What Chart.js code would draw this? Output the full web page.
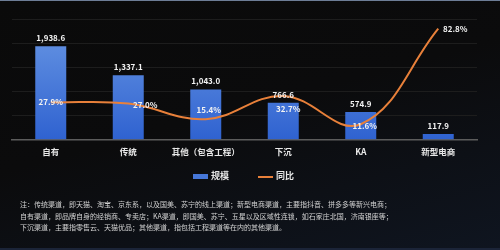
<!DOCTYPE html>
<html><head><meta charset="utf-8">
<script src="https://cdn.jsdelivr.net/npm/chart.js@4/dist/chart.umd.min.js"></script>
<style>
html,body{margin:0;padding:0;width:500px;height:250px;overflow:hidden;background:#0a0a0a;}
#wrap{position:relative;width:500px;height:250px;background:linear-gradient(165deg,#0a0a0a 0%,#0b0b0c 45%,#0f1520 100%);}
#topline{position:absolute;left:0;top:0;width:500px;height:1px;background:#6d7d96;}
#botline{position:absolute;left:0;bottom:0;width:500px;height:2px;background:#1b2438;}
#c{position:absolute;left:0;top:0;}
#legend{position:absolute;top:169px;left:0;width:500px;height:14px;font:bold 9px "Noto Sans CJK SC";color:#e6e6e6;}
.lg{position:absolute;top:0;line-height:14px;white-space:nowrap;}
.sw{display:inline-block;vertical-align:middle;margin-right:3px;}
#notes{position:absolute;left:20px;top:199px;font:7px "Noto Sans CJK SC";color:#d2d2d2;line-height:11.5px;white-space:nowrap;}
</style></head>
<body><div id="wrap">
<div id="topline"></div>
<canvas id="c" width="500" height="178"></canvas>
<div id="legend"></div>
<div id="notes"></div>
<div id="botline"></div>
</div>
<script>
const categories = ['自有','传统','其他（包含工程）','下沉','KA','新型电商'];
const scaleValues = [1938.6,1337.1,1043.0,766.6,574.9,117.9];
const yoyValues = [27.9,27.0,15.4,32.7,11.6,82.8];
const seriesNames = ['规模','同比'];
const noteLines = [
 '注：传统渠道，即天猫、淘宝、京东系，以及国美、苏宁的线上渠道；新型电商渠道，主要指抖音、拼多多等新兴电商；',
 '自有渠道，即品牌自身的经销商、专卖店；KA渠道，即国美、苏宁、五星以及区域性连锁，如石家庄北国，济南银座等；',
 '下沉渠道，主要指零售云、天猫优品；其他渠道，指包括工程渠道等在内的其他渠道。'
];

const BAR_COLOR = '#4677d8', LINE_COLOR = '#e8803a';
const FONT = '"Noto Sans CJK SC", "Noto Sans", sans-serif';
// label placement styles (pixel nudges relative to each line point)
const PCT_LABEL_NUDGE = [[0,0],[17,1],[3,-9],[5,13],[4,2],[17,0]];

document.getElementById('notes').innerHTML = noteLines.map(t=>'<div>'+t+'</div>').join('');
document.getElementById('legend').innerHTML =
 '<span class="lg" style="left:193px"><span class="sw" style="width:15px;height:5px;background:'+BAR_COLOR+'"></span>'+seriesNames[0]+'</span>'+
 '<span class="lg" style="left:258px"><span class="sw" style="width:15px;height:2px;background:'+LINE_COLOR+'"></span>'+seriesNames[1]+'</span>';

const fmt = v => v.toLocaleString('en-US',{minimumFractionDigits:1,maximumFractionDigits:1});

const labelPlugin = {
  id:'labels',
  afterDatasetsDraw(chart){
    const ctx = chart.ctx;
    ctx.save();
    ctx.font = 'bold 8px ' + FONT;
    ctx.fillStyle = '#f2f2f2';
    const barMeta = chart.getDatasetMeta(1);
    barMeta.data.forEach((el,i)=>{
      ctx.textAlign='center'; ctx.textBaseline='bottom';
      ctx.fillText(fmt(scaleValues[i]), el.x, el.y - 4);
    });
    const lineMeta = chart.getDatasetMeta(0);
    lineMeta.data.forEach((el,i)=>{
      ctx.textAlign='center'; ctx.textBaseline='middle';
      const n = PCT_LABEL_NUDGE[i] || [0,0];
      ctx.fillText(yoyValues[i].toFixed(1)+'%', el.x + n[0], el.y + n[1]);
    });
    ctx.restore();
  }
};

new Chart(document.getElementById('c'), {
  data:{
    labels: categories,
    datasets:[
      {type:'line', label:seriesNames[1], data:yoyValues, yAxisID:'y1', borderColor:LINE_COLOR, borderWidth:2,
       tension:0.4, pointRadius:0, fill:false, order:0},
      {type:'bar', label:seriesNames[0], data:scaleValues, yAxisID:'y', order:1,
       backgroundColor:(c)=>{const ca=c.chart.chartArea; if(!ca) return BAR_COLOR;
         const g=c.chart.ctx.createLinearGradient(0,ca.top,0,ca.bottom);
         g.addColorStop(0,'#6a98e4'); g.addColorStop(1,'#2f62d0'); return g;},
       barPercentage:0.4, categoryPercentage:1.0}
    ]
  },
  options:{
    responsive:false, animation:false,
    layout:{padding:{top:19,left:12,right:23,bottom:14}},
    plugins:{legend:{display:false}, tooltip:{enabled:false}},
    scales:{
      x:{grid:{display:false, drawTicks:false}, border:{color:'#5c5c5c', width:1.5},
         ticks:{color:'#e8e8e8', padding:7, font:{family:FONT, size:8.5, weight:'bold'}, maxRotation:0, autoSkip:false}},
      y:{min:0,max:2500, ticks:{display:false, stepSize:500}, border:{display:false},
         grid:{color:'#1d1d1d', drawTicks:false, lineWidth:1}},
      y1:{min:0,max:90, display:false, position:'right'}
    }
  },
  plugins:[labelPlugin]
});
</script>
</body></html>
